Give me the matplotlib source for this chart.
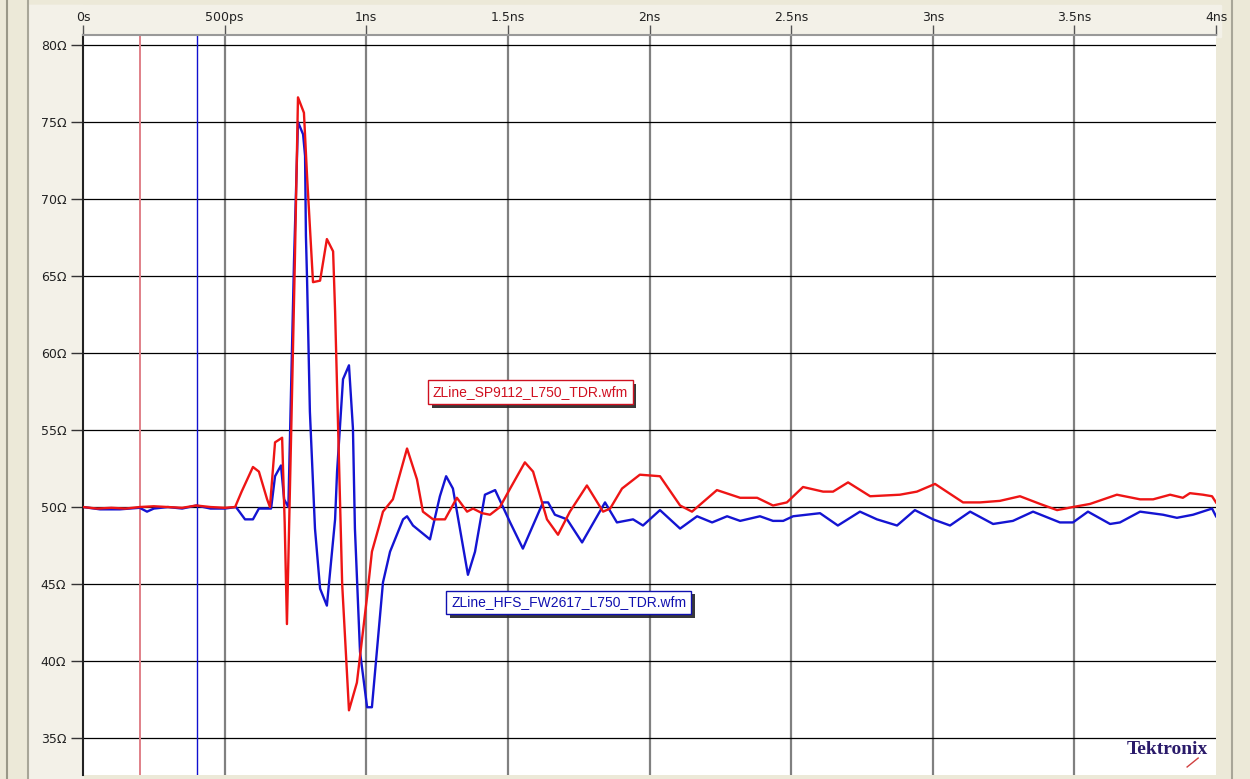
import numpy as np
import matplotlib
matplotlib.use("Agg")
import matplotlib.pyplot as plt
import matplotlib.patches as mpatches
import matplotlib.patheffects as pe

# TDR impedance traces (time in ns, impedance in ohm)
red_t = [0.0, 0.05, 0.1, 0.15, 0.2, 0.25, 0.3, 0.35, 0.4, 0.45, 0.5, 0.537,
         0.56, 0.600, 0.621, 0.650, 0.660, 0.678, 0.703, 0.712, 0.720, 0.736,
         0.748, 0.759, 0.780, 0.791, 0.812, 0.837, 0.861, 0.883, 0.890, 0.915,
         0.939, 0.967, 1.003, 1.020, 1.049, 1.059, 1.094, 1.144, 1.179, 1.200,
         1.236, 1.278, 1.320, 1.356, 1.377, 1.409, 1.437, 1.472, 1.508, 1.560,
         1.589, 1.638, 1.677, 1.719, 1.779, 1.836, 1.861, 1.903, 1.966, 2.037,
         2.108, 2.150, 2.238, 2.320, 2.380, 2.436, 2.485, 2.542, 2.613, 2.648,
         2.701, 2.779, 2.884, 2.944, 3.008, 3.107, 3.167, 3.237, 3.308, 3.379,
         3.439, 3.495, 3.555, 3.650, 3.732, 3.778, 3.838, 3.883, 3.908, 3.954,
         3.986, 4.0]
red_z = [50.0, 49.9, 49.95, 49.9, 50.0, 50.05, 50.0, 49.95, 50.1, 50.0, 49.95, 50.0,
         51.0, 52.6, 52.3, 50.5, 50.0, 54.2, 54.5, 49.0, 42.4, 55.7,
         66.0, 76.6, 75.6, 71.5, 64.6, 64.7, 67.4, 66.6, 62.7, 45.0,
         36.8, 38.6, 44.2, 47.1, 49.0, 49.7, 50.5, 53.8, 51.8, 49.7,
         49.2, 49.2, 50.6, 49.7, 49.9, 49.6, 49.5, 50.0, 51.2, 52.9,
         52.3, 49.2, 48.2, 49.7, 51.4, 49.7, 49.9, 51.2, 52.1, 52.0,
         50.1, 49.7, 51.1, 50.6, 50.6, 50.1, 50.3, 51.3, 51.0, 51.0,
         51.6, 50.7, 50.8, 51.0, 51.5, 50.3, 50.3, 50.4, 50.7, 50.2,
         49.8, 50.0, 50.2, 50.8, 50.5, 50.5, 50.8, 50.6, 50.9, 50.8,
         50.7, 50.3]

blue_t = [0.0, 0.06, 0.13, 0.2, 0.226, 0.25, 0.3, 0.35, 0.4, 0.45, 0.5, 0.54,
          0.572, 0.600, 0.621, 0.664, 0.678, 0.699, 0.710, 0.725, 0.745, 0.759,
          0.777, 0.784, 0.787, 0.791, 0.801, 0.819, 0.837, 0.861, 0.890, 0.897,
          0.918, 0.939, 0.953, 0.960, 0.978, 1.003, 1.020, 1.059, 1.084, 1.130,
          1.144, 1.165, 1.225, 1.260, 1.282, 1.306, 1.359, 1.384, 1.419, 1.455,
          1.508, 1.553, 1.624, 1.642, 1.666, 1.709, 1.762, 1.843, 1.885, 1.942,
          1.977, 2.037, 2.108, 2.168, 2.221, 2.274, 2.320, 2.390, 2.436, 2.472,
          2.507, 2.602, 2.665, 2.743, 2.803, 2.874, 2.937, 3.001, 3.061, 3.132,
          3.213, 3.283, 3.354, 3.449, 3.495, 3.548, 3.626, 3.661, 3.732, 3.813,
          3.862, 3.919, 3.986, 4.0]
blue_z = [50.0, 49.85, 49.85, 49.95, 49.7, 49.9, 50.0, 49.9, 50.1, 49.9, 49.9, 50.0,
          49.2, 49.2, 49.9, 49.9, 52.0, 52.7, 50.5, 50.0, 66.0, 75.0,
          74.2, 72.8, 67.6, 64.8, 56.2, 48.6, 44.7, 43.6, 49.2, 52.3,
          58.3, 59.2, 55.1, 48.6, 40.6, 37.0, 37.0, 45.1, 47.1, 49.2,
          49.4, 48.8, 47.9, 50.7, 52.0, 51.2, 45.6, 47.1, 50.8, 51.1,
          49.0, 47.3, 50.3, 50.3, 49.5, 49.2, 47.7, 50.3, 49.0, 49.2,
          48.8, 49.8, 48.6, 49.4, 49.0, 49.4, 49.1, 49.4, 49.1, 49.1,
          49.4, 49.6, 48.8, 49.7, 49.2, 48.8, 49.8, 49.2, 48.8, 49.7,
          48.9, 49.1, 49.7, 49.0, 49.0, 49.7, 48.9, 49.0, 49.7, 49.5,
          49.3, 49.5, 49.9, 49.4]

x_ticks = [0, 0.5, 1.0, 1.5, 2.0, 2.5, 3.0, 3.5, 4.0]
x_labels = ["0s", "500ps", "1ns", "1.5ns", "2ns", "2.5ns", "3ns", "3.5ns", "4ns"]
y_ticks = [35, 40, 45, 50, 55, 60, 65, 70, 75, 80]
y_labels = ["%dΩ" % v for v in y_ticks]

red_cursor = 0.201
blue_cursor = 0.4025

beige = "#ECE9D8"
fig = plt.figure(figsize=(12.5, 7.79), dpi=100, facecolor=beige)

# window chrome, kept behind the axes
fig.patches.append(mpatches.Rectangle((28 / 1250, 0), (83 - 28) / 1250, 1 - 5 / 779,
                                      transform=fig.transFigure, color="#F3F1E8", zorder=-5))
fig.patches.append(mpatches.Rectangle((28 / 1250, 1 - 37 / 779), (1221 - 28) / 1250, 32 / 779,
                                      transform=fig.transFigure, color="#F3F1E8", zorder=-5))
for xp, c in [(7, "#9A9888"), (28, "#A8A698"), (1232, "#A8A698")]:
    fig.add_artist(plt.Line2D([xp / 1250, xp / 1250], [0, 1], transform=fig.transFigure,
                              color=c, lw=1.5, zorder=-4))

ax = fig.add_axes([83 / 1250, 4 / 779, (1216 - 83) / 1250, (775 - 35) / 779])
ax.set_facecolor("white")
ax.set_xlim(0, 4)
ax.set_ylim(32.6, 80.65)

for x in x_ticks[1:-1]:
    ax.axvline(x, color="#808080", lw=1.6, zorder=1)
for y in y_ticks:
    ax.axhline(y, color="black", lw=0.9, zorder=1)

ax.axvline(red_cursor, color="#E08088", lw=1.4, zorder=2)
ax.axvline(blue_cursor, color="#1010D0", lw=1.0, zorder=2)

ax.plot(blue_t, blue_z, color="#1414D2", lw=1.7, zorder=3)
ax.plot(red_t, red_z, color="#EE1515", lw=1.7, zorder=4)

ax.xaxis.tick_top()
ax.set_xticks(x_ticks)
ax.set_xticklabels(x_labels)
ax.set_yticks(y_ticks)
ax.set_yticklabels(y_labels)
ax.tick_params(axis="x", direction="out", length=7, width=1, color="#555555",
               labelsize=9, labelcolor="#222222", pad=1)
ax.tick_params(axis="y", direction="out", length=9, width=1, color="#333333",
               labelsize=9, labelcolor="#222222", pad=3)
for s in ["bottom", "right"]:
    ax.spines[s].set_visible(False)
ax.spines["left"].set_color("#222222")
ax.spines["left"].set_linewidth(1.5)
ax.spines["top"].set_color("#999999")
ax.spines["top"].set_linewidth(1.5)

t1 = ax.text(1.58, 57.45, "ZLine_SP9112_L750_TDR.wfm", color="#D01020", fontsize=10,
             ha="center", va="center", zorder=6, family="Liberation Sans",
             bbox=dict(boxstyle="square,pad=0.35", fc="white", ec="#D01020", lw=1))
t2 = ax.text(1.715, 43.8, "ZLine_HFS_FW2617_L750_TDR.wfm", color="#1010B0", fontsize=10,
             ha="center", va="center", zorder=6, family="Liberation Sans",
             bbox=dict(boxstyle="square,pad=0.35", fc="white", ec="#1010B0", lw=1))
for t in (t1, t2):
    t.get_bbox_patch().set_path_effects([
        pe.SimplePatchShadow(offset=(2.5, -2.5), shadow_rgbFace="#222222", alpha=0.9),
        pe.Normal()])

ax.text(3.97, 34.25, "Tektronix", ha="right", va="center",
        fontsize=14, fontweight="bold", family="Liberation Serif", color="#2A1A6A", zorder=6)
ax.plot([3.898, 3.937], [33.12, 33.7], color="#D04040", lw=1, zorder=6)

fig.savefig("out.png", dpi=100, facecolor=beige)
